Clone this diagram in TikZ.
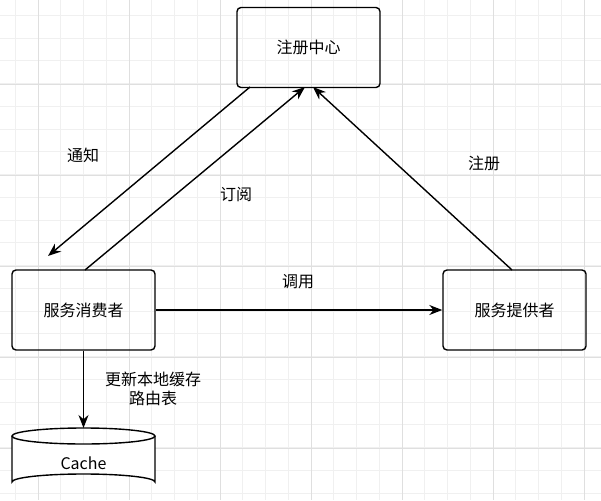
\documentclass[tikz,border=0pt]{standalone}
\usepackage{fontspec}
\setmainfont{Noto Sans CJK SC}
\usetikzlibrary{arrows.meta}
\begin{document}
\begin{tikzpicture}[x=1pt,y=-1pt,
  box/.style={draw,line width=1.4pt,rounded corners=4pt,minimum width=143pt,minimum height=80pt,font=\fontsize{16}{19}\selectfont},
  arr/.style={line width=1.4pt,-{Stealth[length=13pt,width=10pt]}},
  lbl/.style={font=\fontsize{16}{19}\selectfont}]
\useasboundingbox (0,0) rectangle (601,500);
\begin{scope}
\clip (0,0) rectangle (601,500);
\fill[white] (0,0) rectangle (601,500);
\foreach \i in {0,...,26} {
  \draw[gray!12,line width=0.7pt] ({15.25+22.75*\i},0) -- ({15.25+22.75*\i},500);
  \draw[gray!12,line width=0.7pt] (0,{15.25+22.75*\i}) -- (601,{15.25+22.75*\i});}
\foreach \i in {0,...,6} {
  \draw[gray!25,line width=0.9pt] ({38+91*\i},0) -- ({38+91*\i},500);
  \draw[gray!25,line width=0.9pt] (0,{-7+91*\i}) -- (601,{-7+91*\i});}
\end{scope}
\node[box] (reg) at (308.5,47.5) {注册中心};
\node[box] (con) at (83.5,310) {服务消费者};
\node[box] (pro) at (514.5,310) {服务提供者};
% cylinder
\coordinate (cache) at (83.5,428);
\fill[white] (12,436) -- (12,482) arc[start angle=180,end angle=360,x radius=71.5,y radius=8] -- (155,436) arc[start angle=0,end angle=180,x radius=71.5,y radius=8];
\draw[line width=1.4pt] (12,436) -- (12,482) arc[start angle=180,end angle=360,x radius=71.5,y radius=8] -- (155,436);
\draw[line width=1.4pt] (83.5,436) ellipse[x radius=71.5,y radius=8];
\node[lbl] (ctext) at (83.5,463) {Cache};
\coordinate (a1) at (250,87);
\coordinate (a2) at (48,256);
\draw[arr] (a1) -- (a2);
\coordinate (b1) at (85,270);
\coordinate (b2) at (305,87);
\draw[arr] (b1) -- (b2);
\coordinate (c1) at (512,270);
\coordinate (c2) at (313,87);
\draw[arr] (c1) -- (c2);
\draw[arr] (con.east) -- (pro.west);
\draw[arr] (con.south) -- (cache);
\node[lbl] (t1) at (83,155) {通知};
\node[lbl] (t2) at (236,195) {订阅};
\node[lbl] (t3) at (484,163) {注册};
\node[lbl] (t4) at (298,282) {调用};
\node[lbl,align=center] (t5) at (153,389) {更新本地缓存\\路由表};
\end{tikzpicture}
\end{document}
